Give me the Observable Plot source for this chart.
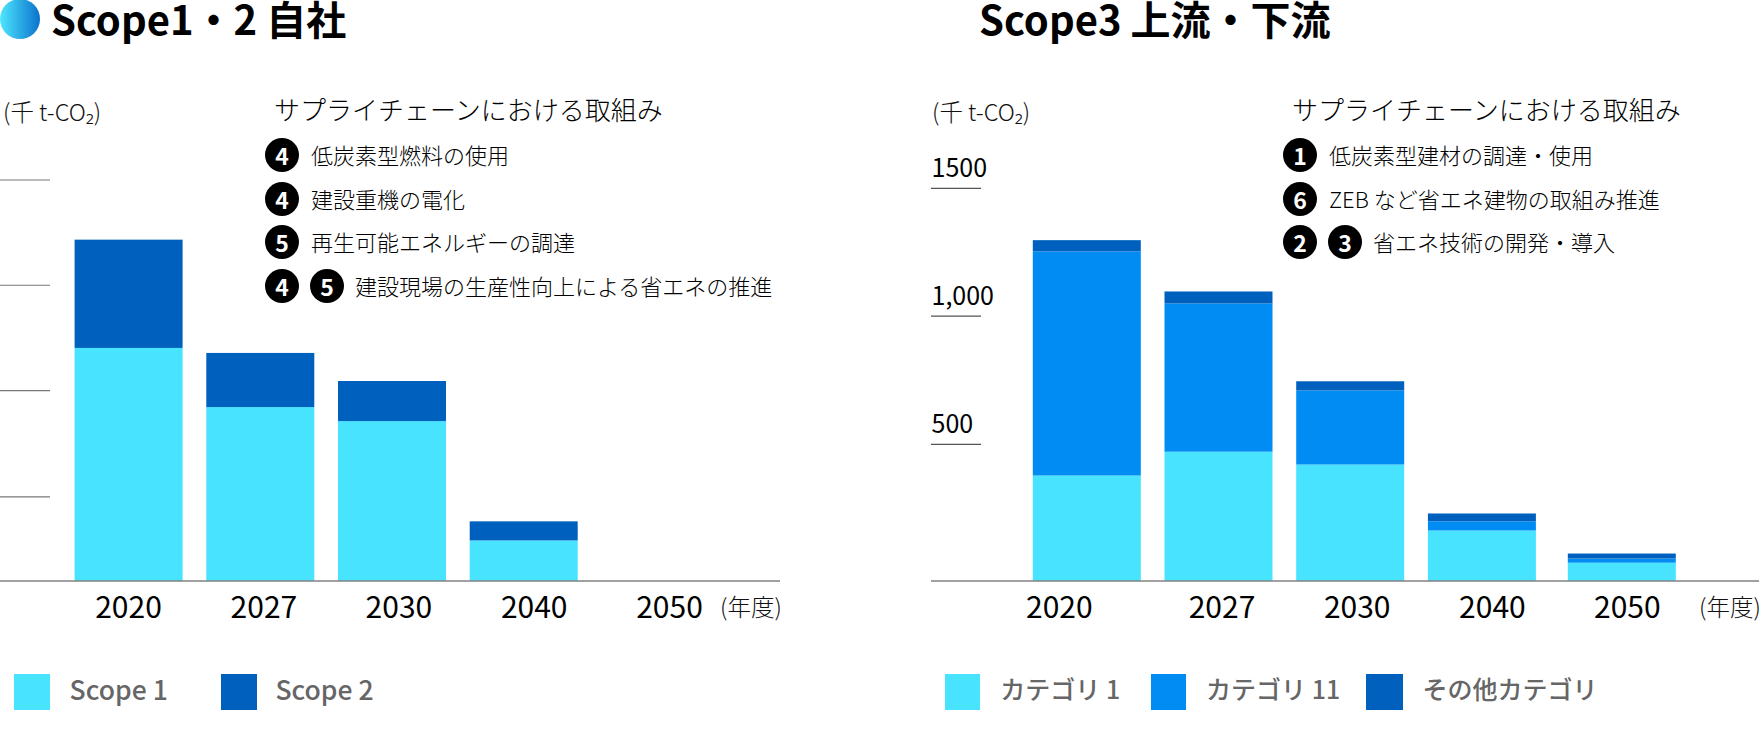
<!DOCTYPE html>
<html lang="ja">
<head>
<meta charset="utf-8">
<script src="https://cdn.jsdelivr.net/npm/d3@7"></script>
<script src="https://cdn.jsdelivr.net/npm/@observablehq/plot@0.6"></script>
<style>
html,body{margin:0;padding:0;background:#fff;width:1763px;height:729px;overflow:hidden;font-family:"Noto Sans CJK JP","Noto Sans",sans-serif;color:#000}
#page{position:relative;width:1763px;height:729px}
.chart{position:absolute;top:0}
.chart svg{display:block;background:transparent;overflow:visible}
.t{position:absolute;white-space:nowrap;line-height:1.1;transform:translateY(-50%)}
.title{font-size:40px;font-weight:700}
.unit{font-size:23.5px;font-weight:300;color:#111}
.head{font-size:26px;font-weight:300}
.item{font-size:22px;font-weight:300}
.fy{font-size:23.5px;font-weight:300;color:#111}
.num{position:absolute;width:34px;height:34px;border-radius:50%;background:#000;color:#fff;font-size:23px;font-weight:700;display:flex;align-items:center;justify-content:center;transform:translate(-50%,-50%);line-height:1}
.sw{position:absolute;top:674px;height:36px}
.lg{font-size:25px;font-weight:500;color:#666}
.lg.latin{font-size:26.5px}
#dot{position:absolute;left:0;top:-1px;width:40px;height:40px;border-radius:50%;background:linear-gradient(90deg,#4fe6ff,#0a72cc)}
</style>
</head>
<body>
<div id="page"><div id="dot"></div></div>
<script>
// ---- data ----
const years = ["2020","2027","2030","2040","2050"];

// Left panel (Scope 1 / 2); its ticks are unlabelled in the original
const scope1 = [232, 173, 159, 40, 0];
const scope2 = [108, 54, 40, 19, 0];
const leftTicks = [84, 190, 295, 400];

// Right panel (Scope 3); the original's ticks are not evenly spaced
const category1  = [401, 492, 443, 191, 68];
const category11 = [856, 566, 283, 35, 16];
const categoryEtc = [43, 46, 35, 30, 19];
const rightTicks = [522, 1012, 1500];
const rightTickLabels = ["500", "1,000", "1500"];

const leftSeries = ["Scope 1", "Scope 2"];
const rightSeries = ["カテゴリ 1", "カテゴリ 11", "その他カテゴリ"];
const titles = ["Scope1・2 自社", "Scope3 上流・下流"];
const unitLabel = "(千 t-CO₂)";
const fyLabel = "(年度)";
const actionHead = "サプライチェーンにおける取組み";
const leftActions = [
  [["4"], "低炭素型燃料の使用"],
  [["4"], "建設重機の電化"],
  [["5"], "再生可能エネルギーの調達"],
  [["4","5"], "建設現場の生産性向上による省エネの推進"]
];
const rightActions = [
  [["1"], "低炭素型建材の調達・使用"],
  [["6"], "ZEB など省エネ建物の取組み推進"],
  [["2","3"], "省エネ技術の開発・導入"]
];

// ---- styles ----
const cyan = "#47e3ff", mid = "#008cf3", dark = "#0060be";
const page = document.getElementById("page");

const long = (series, values) => series.flatMap((s, k) => years.map((year, i) => ({year, group: s, value: values[k][i]})));

function panel({left, width, series, values, colors, yDomain, yRange, bandStart, ticks, tickColor, tickLabels, labelShift, barShift}) {
  const tickInset = width - 50;
  const rows = long(series, values);
  // each year's bar is a mark of its own: the original's columns are not all evenly spaced
  const marks = years.map((year, i) => Plot.barY(rows.filter(r => r.year === year), {
    x: "year", y: "value", fill: "group", dx: barShift[i]
  }));
  marks.push(
    Plot.ruleY([0], {stroke: "#444", strokeWidth: 1.2}),
    Plot.ruleY(ticks, {stroke: tickColor, strokeWidth: 1.2, insetRight: tickInset})
  );
  if (tickLabels) {
    marks.push(Plot.text(ticks, {
      y: d => d, text: (d, i) => tickLabels[i], frameAnchor: "left", textAnchor: "start",
      dy: -19.5, fontSize: 25, fill: "#000"
    }));
  }
  years.forEach((year, i) => marks.push(Plot.text([year], {
    x: d => d, y: () => 0, text: d => d, dx: labelShift[i], dy: 27.5, fontSize: 30, fill: "#000"
  })));
  const svg = Plot.plot({
    width, height: 729, margin: 0,
    style: {fontFamily: '"Noto Sans CJK JP", sans-serif', background: "transparent"},
    x: {type: "band", domain: years, range: [bandStart, bandStart + 131.7 * 5 - 23.7], paddingInner: 0.18, paddingOuter: 0, round: false, axis: null},
    y: {type: "linear", domain: yDomain, range: yRange, axis: null},
    color: {domain: series, range: colors},
    marks
  });
  const box = document.createElement("div");
  box.className = "chart";
  box.style.left = left + "px";
  box.appendChild(svg);
  page.appendChild(box);
}

panel({
  left: 0, width: 780, series: leftSeries, values: [scope1, scope2], colors: [cyan, dark],
  yDomain: [0, 400], yRange: [580.5, 179.5],
  bandStart: 74.6, ticks: leftTicks, tickColor: "#777", labelShift: [-0.6, 3.1, 6.4, 10, 13.6], barShift: [0, 0, 0, 0, 0]
});
panel({
  left: 931, width: 828, series: rightSeries, values: [category1, category11, categoryEtc], colors: [cyan, mid, dark],
  yDomain: [0, 1500], yRange: [580.5, 187.8],
  bandStart: 101.8, ticks: rightTicks, tickColor: "#555", tickLabels: rightTickLabels, labelShift: [-28, 3, 6.5, 10, 13.2], barShift: [0, 0, 0, 0, 8.2]
});

// ---- surrounding text ----
function text(cls, x, y, s) {
  const e = document.createElement("div");
  e.className = "t " + cls;
  e.style.left = x + "px"; e.style.top = y + "px";
  e.textContent = s;
  page.appendChild(e);
}
function badge(x, y, s) {
  const e = document.createElement("div");
  e.className = "num";
  e.style.left = x + "px"; e.style.top = y + "px";
  e.textContent = s;
  page.appendChild(e);
}
function actions(list, xCircle, xText, xCircle2, xText2) {
  const rowsY = [156, 200, 243, 287];
  list.forEach(([nums, label], i) => {
    badge(xCircle, rowsY[i] - 1, nums[0]);
    if (nums[1]) badge(xCircle2, rowsY[i] - 1, nums[1]);
    text("item", nums[1] ? xText2 : xText, rowsY[i] - 2.5, label);
  });
}
function legend(items, colors, cls) {
  items.forEach(([swX, swW, tX], i) => {
    const s = document.createElement("div");
    s.className = "sw";
    s.style.left = swX + "px"; s.style.width = swW + "px"; s.style.background = colors[i];
    page.appendChild(s);
    text(cls, tX, 689, colors.labels[i]);
  });
}

text("title", 51, 18, titles[0]);
text("title", 979, 18, titles[1]);
text("unit", 3, 112, unitLabel);
text("unit", 932, 112, unitLabel);
text("head", 274, 109, actionHead);
text("head", 1292, 109, actionHead);
actions(leftActions, 282, 311, 327, 355);
actions(rightActions, 1300, 1329, 1345, 1373);
text("fy", 720, 607, fyLabel);
text("fy", 1699, 607, fyLabel);

const leftColors = [cyan, dark]; leftColors.labels = leftSeries;
const rightColors = [cyan, mid, dark]; rightColors.labels = rightSeries;
legend([[14, 36.4, 69.6], [220.5, 36.2, 275.4]], leftColors, "lg latin");
legend([[944.6, 35.8, 1000.3], [1150.6, 35.9, 1206], [1365.8, 36.8, 1422.5]], rightColors, "lg");
</script>
</body>
</html>
